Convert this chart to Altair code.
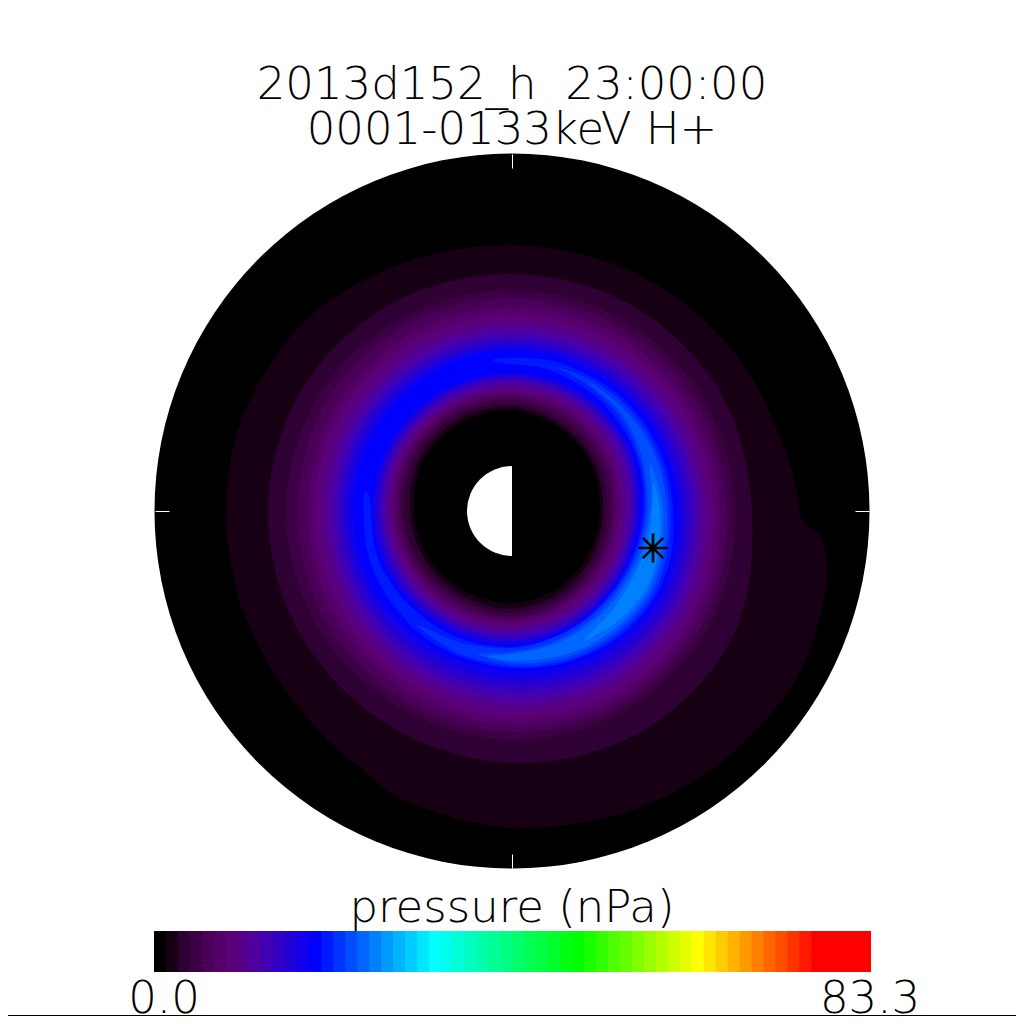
import math
import altair as alt
import pandas as pd

# ---- values ----
title_lines = ["2013d152_h\u00a0\u00a023:00:00", "0001-0133keV H+"]
bar_title = "pressure (nPa)"
bar_min, bar_max = 0.0, 83.3
n_cells = 60

# colour table: level -> colour
anchor_levels = [0, 1, 2, 3, 5, 6, 8, 13, 23, 35, 45, 55, 59]
anchor_colors = ["#000000", "#170013", "#2e0033", "#3e0045", "#55006a", "#5a0078", "#5000a0",
                 "#0000ff", "#00ffff", "#00ff00", "#ffff00", "#ff0000", "#ff0000"]

# contour radii (pixels of the disk, disk radius 357.5) by direction
ring_angles = [0, 30, 60, 90, 120, 150, 180, 210, 240, 270, 300, 330]
outer_1_angles = [0, 8, 17, 30, 45, 60, 75, 90, 105, 120, 135, 150, 165, 180, 192, 201, 215, 228,
                  239, 251, 270, 288, 302, 315, 330, 345, 354, 358]
outer_1 = [288, 283, 277, 274, 271, 268, 266, 266, 268, 273, 280, 283, 286, 286, 286, 287, 288, 292,
           298, 309, 317, 321, 325, 327, 330, 324, 313, 291]
outer = {
    2: [240, 240, 238, 237, 240, 243, 244, 245, 247, 252, 256, 254],
    3: [223, 222, 221, 221, 222, 225, 226, 226, 226, 229, 229, 228],
    4: [215, 214, 213, 213, 214, 215, 214, 216, 218, 221, 222, 221],
    5: [208, 206, 205, 204, 204, 204, 204, 206, 209, 214, 216, 214],
    6: [202, 199, 197, 196, 196, 197, 197, 198, 201, 207, 209, 208],
    7: [196, 193, 190, 189, 189, 190, 190, 191, 194, 199, 202, 201],
    8: [190, 187, 184, 183, 183, 184, 184, 185, 188, 192, 196, 195],
    9: [185, 182, 179, 178, 178, 179, 179, 180, 182, 186, 190, 190],
    10: [180, 177, 174, 173, 173, 173, 173, 174, 176, 179, 184, 185],
    11: [175, 172, 169, 168, 168, 169, 169, 169, 170, 173, 178, 180],
    12: [170, 168, 165, 165, 164, 164, 164, 164, 164, 167, 172, 175],
    13: [166, 164, 161, 161, 160, 159, 159, 159, 158, 160, 166, 170],
}
inner = {
    13: [128, 134, 137, 138, 139, 140, 140, 138, 135, 134, 130, 127],
    12: [126, 132, 135, 137, 137, 138, 137, 135, 132, 131, 128, 125],
    11: [124, 130, 133, 134, 135, 135, 134, 132, 129, 129, 126, 123],
    10: [121, 127, 130, 132, 132, 132, 131, 129, 127, 126, 123, 120],
    9: [119, 124, 127, 129, 129, 130, 129, 126, 124, 122, 120, 118],
    8: [115, 120, 124, 126, 126, 127, 125, 122, 120, 119, 117, 115],
    7: [111, 116, 120, 122, 123, 124, 122, 119, 117, 116, 113, 112],
    6: [107, 112, 116, 119, 120, 121, 119, 116, 114, 112, 109, 108],
    5: [103, 108, 112, 116, 117, 118, 116, 113, 110, 109, 106, 104],
    4: [100, 104, 108, 112, 114, 114, 112, 109, 106, 106, 103, 100],
    3: [95, 99, 103, 107, 110, 110, 109, 105, 102, 102, 99, 96],
    2: [91, 95, 99, 104, 106, 106, 102, 100, 98, 98, 95, 92],
    1: [88, 92, 96, 101, 102, 102, 98, 96, 93, 92, 90, 88],
}
# crescents of the brightest levels: angle (running anticlockwise), outer radius, inner radius
crescents = {
    14: ([175, 195, 210, 225, 240, 255, 270, 285, 300, 315, 330, 345, 360, 375, 390, 405, 420, 437, 455],
         [149, 150, 151, 152, 154, 155, 157, 160, 163, 166, 167, 165, 161, 160, 159, 158, 156, 155, 153],
         [143, 142, 141, 139, 138, 137, 136, 133, 131, 129, 128, 129, 131, 134, 137, 140, 143, 146, 149]),
    15: ([232, 250, 270, 285, 300, 315, 330, 345, 360, 375, 390, 405, 420, 432],
         [149, 152, 155, 158, 161, 163, 164, 161, 158, 157, 156, 155, 153, 151],
         [147, 141, 137, 134, 132, 130, 130, 131, 133, 136, 140, 144, 147, 150]),
    16: ([258, 270, 285, 300, 315, 330, 345, 360, 375, 390, 405, 418],
         [148, 152, 155, 158, 160, 161, 158, 155, 154, 153, 151, 150],
         [146, 141, 138, 135, 133, 132, 133, 135, 138, 143, 147, 149]),
    17: ([262, 270, 285, 300, 315, 330, 345, 360, 368, 378],
         [148, 150, 152, 155, 157, 158, 155, 151, 149, 147],
         [146, 143, 140, 138, 136, 135, 136, 138, 141, 145]),
    18: ([300, 315, 330, 345, 360, 370],
         [149, 153, 155, 152, 148, 145],
         [147, 141, 138, 139, 140, 143]),
}
disk_radius = 357.5
earth_radius = 45
tick_inner, tick_outer = 343, 357
tick_angles = [0, 90, 180, 270]
star_x, star_y = [141], [-37]
# text anchors, relative to the disk centre
text_x = [0, 0, 0, -348, 358]
text_y = [412, 367, -411, -502, -502]
text_values = title_lines + [bar_title, f"{bar_min:.1f}", f"{bar_max:.1f}"]
bar_y0, bar_y1 = -420, -461
base_y = -504.5


def xy(r, a):
    return r * math.cos(math.radians(a)), r * math.sin(math.radians(a))


rows = []


def add(pid, level, angles, radii):
    for i, (a, r) in enumerate(zip(angles, radii)):
        x, y = xy(r, a)
        rows.append({"poly": pid, "seq": i, "level": level, "x": x, "y": y})


pid = 0
add(pid, 1, outer_1_angles, outer_1)
for lev, radii in outer.items():
    pid += 1
    add(pid, lev, ring_angles, radii)
for lev, radii in inner.items():
    pid += 1
    add(pid, lev - 1, ring_angles, radii)
for lev, (ang, ro, ri) in crescents.items():
    pid += 1
    add(pid, lev, ang + ang[::-1], ro + ri[::-1])
contours = pd.DataFrame(rows)

X = alt.X("x:Q", axis=None, scale=alt.Scale(domain=[-504, 504], nice=False, zero=False))
Y = alt.Y("y:Q", axis=None, scale=alt.Scale(domain=[-505, 503], nice=False, zero=False))
fill_scale = alt.Scale(domain=anchor_levels, range=anchor_colors, interpolate="rgb")
FILL = alt.Fill("level:Q", scale=fill_scale, legend=None)

centre = pd.DataFrame({"x": [0], "y": [0]})
disk = alt.Chart(centre).mark_arc(radius=disk_radius, theta=0, theta2=2 * math.pi, fill="#000000").encode(x=X, y=Y)
contour_layer = alt.Chart(contours).mark_line(
    filled=True, interpolate="cardinal-closed", strokeWidth=0
).encode(x=X, y=Y, fill=FILL, detail="poly:N", order="seq:Q")
earth = alt.Chart(centre).mark_arc(radius=earth_radius, theta=math.pi, theta2=2 * math.pi, fill="#ffffff").encode(x=X, y=Y)

tick_rows = []
for a in tick_angles:
    x0, y0 = xy(tick_inner, a)
    x1, y1 = xy(tick_outer, a)
    tick_rows.append({"x": x0 + 0.5, "y": y0 - 0.5, "x2": x1 + 0.5, "y2": y1 - 0.5})
ticks = pd.DataFrame(tick_rows)
tick_layer = alt.Chart(ticks).mark_rule(color="#ffffff", strokeWidth=1).encode(x=X, y=Y, x2="x2:Q", y2="y2:Q")

star = alt.Chart(pd.DataFrame({"x": star_x, "y": star_y})).mark_point(
    shape="M-1,0L1,0M0,-1L0,1M-.7,-.7L.7,.7M-.7,.7L.7,-.7",
    size=841, filled=False, stroke="#000000", strokeWidth=2.6, opacity=1,
).encode(x=X, y=Y)

step = (bar_max - bar_min) / n_cells
cells = pd.DataFrame({
    "level": list(range(n_cells)),
    "p0": [bar_min + i * step for i in range(n_cells)],
    # each cell runs slightly under the next one, so that no seam shows
    "p1": [min(bar_max, bar_min + (i + 1.1) * step) for i in range(n_cells)],
    "y": [bar_y0] * n_cells,
    "y2": [bar_y1] * n_cells,
})
bar = alt.Chart(cells).mark_rect(strokeWidth=0).encode(
    x=alt.X("p0:Q", axis=None, scale=alt.Scale(domain=[bar_min, bar_max], range=[146, 863], nice=False, zero=False)),
    x2="p1:Q", y=Y, y2="y2:Q", fill=FILL,
)

labels = pd.DataFrame({"x": text_x, "y": text_y, "t": text_values})
text = alt.Chart(labels).mark_text(
    font="DejaVu Sans", fontWeight=200, fontSize=45, align="center", baseline="alphabetic", color="#000000"
).encode(x=X, y=Y, text="t:N")

base = alt.Chart(pd.DataFrame({"x": [-504], "x2": [504], "y": [base_y]})).mark_rule(
    color="#000000", strokeWidth=1
).encode(x=X, x2="x2:Q", y=Y)

plot = alt.layer(disk, contour_layer, earth, tick_layer, star, base)
chart = alt.layer(plot, bar, text).resolve_scale(x="independent").properties(
    width=1008, height=1008, padding=0, autosize="none", background="#ffffff"
).configure_view(strokeWidth=0)

chart.save("out.html", embed_options={"renderer": "svg", "actions": False})
